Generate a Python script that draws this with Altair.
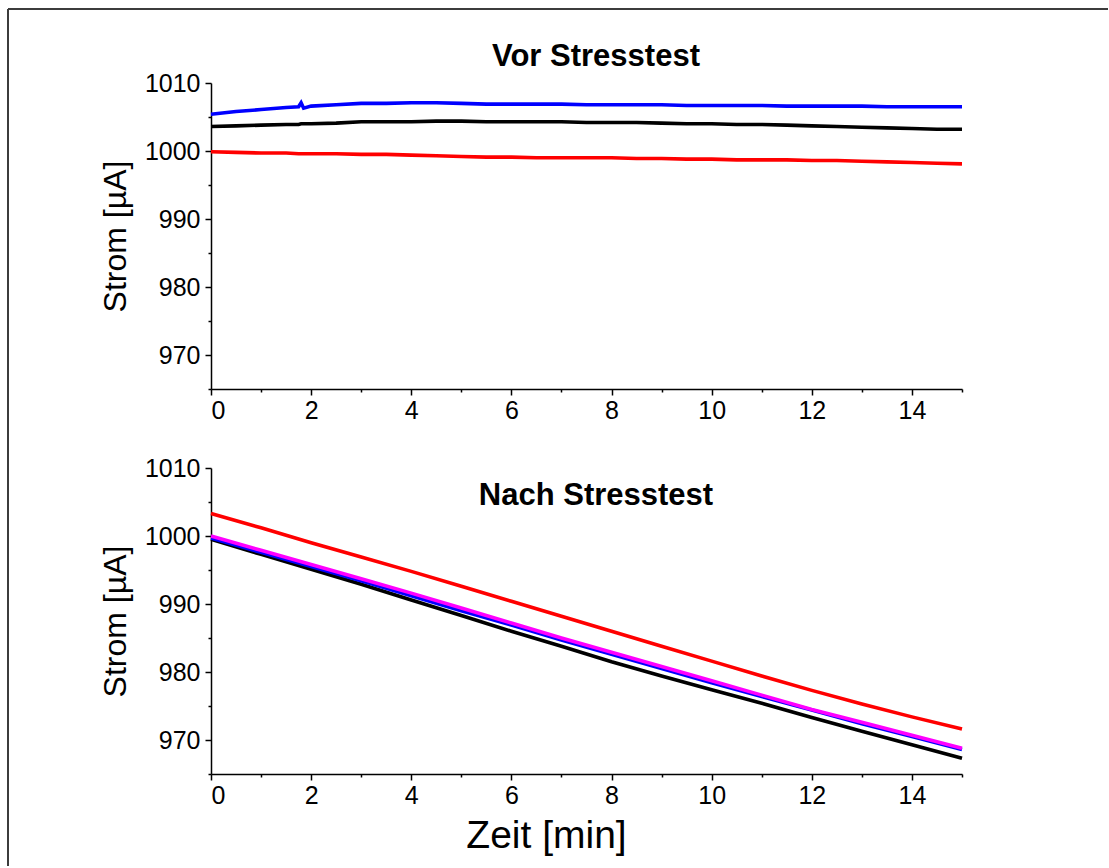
import altair as alt
import pandas as pd

# ---------------- data ----------------
t_top = [0, 0.5, 1, 1.5, 1.75, 1.8, 1.85, 2, 2.5, 3, 3.5, 4, 4.5, 5, 5.5, 6, 6.5,
         7, 7.5, 8, 8.5, 9, 9.5, 10, 10.5, 11, 11.5, 12, 12.5, 13, 13.5, 14, 14.5, 15]
blue_top = [1005.4, 1005.8, 1006.1, 1006.4, 1006.5, 1007.1, 1006.3, 1006.6, 1006.8, 1007.0,
            1007.0, 1007.1, 1007.1, 1007.0, 1006.9, 1006.9, 1006.9, 1006.9, 1006.8, 1006.8,
            1006.8, 1006.8, 1006.7, 1006.7, 1006.7, 1006.7, 1006.6, 1006.6, 1006.6, 1006.6,
            1006.5, 1006.5, 1006.5, 1006.5]
black_top = [1003.6, 1003.7, 1003.8, 1003.9, 1003.9, 1004.0, 1004.0, 1004.0, 1004.1, 1004.3,
             1004.3, 1004.3, 1004.4, 1004.4, 1004.3, 1004.3, 1004.3, 1004.3, 1004.2, 1004.2,
             1004.2, 1004.1, 1004.0, 1004.0, 1003.9, 1003.9, 1003.8, 1003.7, 1003.6, 1003.5,
             1003.4, 1003.3, 1003.2, 1003.2]
red_top = [999.9, 999.8, 999.7, 999.7, 999.6, 999.6, 999.6, 999.6, 999.6, 999.5,
           999.5, 999.4, 999.3, 999.2, 999.1, 999.1, 999.0, 999.0, 999.0, 999.0,
           998.9, 998.9, 998.8, 998.8, 998.7, 998.7, 998.7, 998.6, 998.6, 998.5,
           998.4, 998.3, 998.2, 998.1]

t_bottom = [0, 1, 2, 3, 4, 5, 6, 7, 8, 9, 10, 11, 12, 13, 14, 15]
red_bottom = [1003.3, 1001.2, 999.0, 996.9, 994.8, 992.6, 990.4, 988.2, 986.0, 983.8,
              981.6, 979.4, 977.3, 975.3, 973.4, 971.6]
magenta_bottom = [1000.0, 997.9, 995.8, 993.7, 991.6, 989.4, 987.2, 985.0, 982.9, 980.8,
                  978.7, 976.6, 974.5, 972.6, 970.7, 968.8]
blue_bottom = [999.7, 997.6, 995.5, 993.4, 991.2, 989.0, 986.9, 984.7, 982.6, 980.5,
               978.4, 976.4, 974.4, 972.4, 970.5, 968.6]
black_bottom = [999.5, 997.3, 995.1, 992.9, 990.6, 988.3, 986.0, 983.8, 981.5, 979.4,
                977.4, 975.4, 973.3, 971.3, 969.3, 967.3]

x_major = [0, 2, 4, 6, 8, 10, 12, 14]
x_minor = [1, 3, 5, 7, 9, 11, 13, 15]
y_major = [970, 980, 990, 1000, 1010]
y_minor = [965, 975, 985, 995, 1005]

title_top = "Vor Stresstest"
title_bottom = "Nach Stresstest"
y_title = "Strom [µA]"
x_title = "Zeit [min]"

FONT = "Liberation Sans"

xs = alt.Scale(domain=[0, 15], nice=False, zero=False)
ys = alt.Scale(domain=[965, 1010], nice=False, zero=False)


def x_axis(title=None):
    kw = dict(values=x_major, tickSize=6, grid=False, labelFontSize=25, format="d",
              labelPadding=3, orient="bottom")
    if title:
        kw.update(title=title, titleFontSize=39, titlePadding=8, titleX=335)
    else:
        kw["title"] = None
    return alt.Axis(**kw)


def y_axis():
    return alt.Axis(values=y_major, tickSize=6, grid=False, labelFontSize=25, format="d",
                    labelPadding=5, title=y_title, titleFontSize=32,
                    titlePadding=12, orient="left")


def line(t, v, color, xtitle=None):
    df = pd.DataFrame({"t": t, "v": v})
    return alt.Chart(df).mark_line(color=color, strokeWidth=3.6).encode(
        x=alt.X("t:Q", scale=xs, axis=x_axis(xtitle)),
        y=alt.Y("v:Q", scale=ys, axis=y_axis()),
    )


def minor_ticks():
    df = pd.DataFrame({"t": x_minor[:len(y_minor)], "v": y_minor})
    return alt.Chart(df).mark_point(opacity=0).encode(
        x=alt.X("t:Q", scale=xs, axis=alt.Axis(values=x_minor, tickSize=3, labels=False,
                                              domain=False, grid=False, title=None,
                                              orient="bottom")),
        y=alt.Y("v:Q", scale=ys, axis=alt.Axis(values=y_minor, tickSize=3, labels=False,
                                              domain=False, grid=False, title=None,
                                              orient="left")),
    )


one = pd.DataFrame({"a": [0]})


def label(text, xv, yv):
    return alt.Chart(one).mark_text(
        font=FONT, fontSize=31, fontWeight="bold", color="black"
    ).encode(x=alt.datum(xv), y=alt.datum(yv), text=alt.value(text))


frame_h = alt.Chart(one).mark_rule(color="#3c3c3c", strokeWidth=2).encode(
    x=alt.value(-203), x2=alt.value(897), y=alt.value(-74)
)
frame_v = alt.Chart(one).mark_rule(color="#3c3c3c", strokeWidth=2).encode(
    x=alt.value(-203), y=alt.value(-74), y2=alt.value(783)
)

top_main = alt.layer(
    frame_h,
    frame_v,
    line(t_top, red_top, "#ff0000"),
    line(t_top, black_top, "#000000"),
    line(t_top, blue_top, "#0000ff"),
    label(title_top, 7.69, 1013.8),
)
top = alt.layer(top_main, minor_ticks()).resolve_axis(
    x="independent", y="independent"
).properties(width=751, height=306)

bottom_main = alt.layer(
    line(t_bottom, black_bottom, "#000000", x_title),
    line(t_bottom, blue_bottom, "#0000ff", x_title),
    line(t_bottom, magenta_bottom, "#ff00ff", x_title),
    line(t_bottom, red_bottom, "#ff0000", x_title),
    label(title_bottom, 7.69, 1005.9),
)
bottom = alt.layer(bottom_main, minor_ticks()).resolve_axis(
    x="independent", y="independent"
).properties(width=751, height=306)

chart = alt.vconcat(top, bottom, spacing=79, bounds="flush").properties(
    padding={"left": 7, "top": 8, "right": 0, "bottom": 0},
    background="white",
).configure_view(stroke=None).configure_axis(
    domainColor="black",
    domainWidth=1.5,
    tickColor="black",
    tickWidth=1.5,
    labelFont=FONT,
    labelColor="black",
    titleFont=FONT,
    titleColor="black",
    titleFontWeight="normal",
)

chart.save("out.html", embed_options={"renderer": "svg", "actions": False})
